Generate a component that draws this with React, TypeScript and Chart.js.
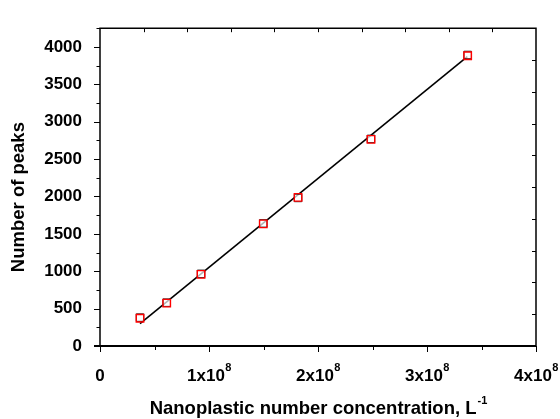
import React, { useEffect, useRef } from "react";
import { Chart, registerables } from "chart.js";

Chart.register(...registerables);

// Data (x in particles per litre, y = number of peaks)
const concentration = [0.367e8, 0.612e8, 0.927e8, 1.498e8, 1.817e8, 2.486e8, 3.373e8];
const peaksRed = [371, 574, 958, 1633, 1987, 2763, 3882];
const peaksBlack = [380, 580, 965, 1640, 1980, 2770, 3892];
const fitX = [0.367e8, 3.37e8];
const fitY = [300, 3870];
const xMajorTicks = [0, 1e8, 2e8, 3e8, 4e8];
const xTickLabels = ["0", "1x10", "2x10", "3x10", "4x10"];
const xTickExps = ["", "8", "8", "8", "8"];
const xTitle = "Nanoplastic number concentration, L";
const xTitleExp = "-1";
const yTitle = "Number of peaks";

const FONT = "'Liberation Sans', Arial, sans-serif";

const framePlugin = {
  id: "frame",
  afterDraw(chart: any) {
    const ctx = chart.ctx;
    const xs = chart.scales.x;
    const ys = chart.scales.y;
    const { left, right, top, bottom } = chart.chartArea;
    ctx.save();
    ctx.strokeStyle = "#000";
    // frame
    ctx.lineWidth = 1.5;
    ctx.beginPath();
    ctx.moveTo(left, bottom);
    ctx.lineTo(left, top);
    ctx.lineTo(right, top);
    ctx.lineTo(right, bottom);
    ctx.stroke();
    ctx.lineWidth = 2;
    ctx.beginPath();
    ctx.moveTo(left - 6, bottom);
    ctx.lineTo(right, bottom);
    ctx.stroke();

    ctx.lineWidth = 1;
    ctx.beginPath();
    // bottom ticks (outward)
    for (let v = 0; v <= 4e8 + 1; v += 0.5e8) {
      const px = Math.round(xs.getPixelForValue(v)) + 0.5;
      const major = Math.abs(v / 1e8 - Math.round(v / 1e8)) < 1e-6;
      ctx.moveTo(px, bottom);
      ctx.lineTo(px, bottom + (major ? 6 : 4));
    }
    // left ticks (outward)
    for (let v = 0; v <= 4250; v += 250) {
      const py = Math.round(ys.getPixelForValue(v)) + 0.5;
      const major = v % 500 === 0;
      ctx.moveTo(left, py);
      ctx.lineTo(left - (major ? 6 : 3.5), py);
    }
    // top ticks (inward)
    for (let v = 0.4e8; v < 4e8 - 1; v += 0.4e8) {
      const px = Math.round(xs.getPixelForValue(v)) + 0.5;
      ctx.moveTo(px, top);
      ctx.lineTo(px, top + 4);
    }
    // right ticks (inward)
    for (let v = 425; v < 4250 - 1; v += 425) {
      const py = Math.round(ys.getPixelForValue(v)) + 0.5;
      ctx.moveTo(right, py);
      ctx.lineTo(right - 4, py);
    }
    ctx.stroke();

    // x tick labels with superscript
    ctx.fillStyle = "#000";
    ctx.textBaseline = "alphabetic";
    xMajorTicks.forEach((v, i) => {
      const px = xs.getPixelForValue(v);
      ctx.font = `bold 17px ${FONT}`;
      const w1 = ctx.measureText(xTickLabels[i]).width;
      ctx.font = `bold 11px ${FONT}`;
      const w2 = xTickExps[i] ? ctx.measureText(xTickExps[i]).width : 0;
      const x0 = px - (w1 + w2) / 2;
      ctx.font = `bold 17px ${FONT}`;
      ctx.textAlign = "left";
      ctx.fillText(xTickLabels[i], x0, bottom + 35);
      if (xTickExps[i]) {
        ctx.font = `bold 11px ${FONT}`;
        ctx.fillText(xTickExps[i], x0 + w1 + 0.5, bottom + 25);
      }
    });

    // x title
    ctx.font = `bold 18.5px ${FONT}`;
    const tw1 = ctx.measureText(xTitle).width;
    ctx.font = `bold 11px ${FONT}`;
    const tw2 = ctx.measureText(xTitleExp).width;
    const cx = (left + right) / 2;
    const tx0 = cx - (tw1 + tw2) / 2;
    ctx.font = `bold 18.5px ${FONT}`;
    ctx.fillText(xTitle, tx0, bottom + 68);
    ctx.font = `bold 11px ${FONT}`;
    ctx.fillText(xTitleExp, tx0 + tw1 + 1, bottom + 58);

    // y title
    ctx.save();
    ctx.translate(24, (top + bottom) / 2 + 10);
    ctx.rotate(-Math.PI / 2);
    ctx.font = `bold 18.5px ${FONT}`;
    ctx.textAlign = "center";
    ctx.fillText(yTitle, 0, 0);
    ctx.restore();

    ctx.restore();
  },
};

export default function App() {
  const ref = useRef<HTMLCanvasElement | null>(null);
  useEffect(() => {
    document.body.style.margin = "0";
    if (!ref.current) return;
    const chart = new Chart(ref.current, {
      type: "scatter",
      data: {
        datasets: [
          {
            type: "line",
            label: "fit",
            data: fitX.map((x, i) => ({ x, y: fitY[i] })),
            borderColor: "#000",
            borderWidth: 1.6,
            pointRadius: 0,
            fill: false,
            order: 3,
          } as any,
          {
            label: "black",
            data: concentration.map((x, i) => ({ x, y: peaksBlack[i] })),
            pointStyle: "rect",
            pointRadius: 5.3,
            borderColor: "#222",
            backgroundColor: "rgba(255,255,255,0.7)",
            borderWidth: 1,
            order: 2,
          },
          {
            label: "red",
            data: concentration.map((x, i) => ({ x, y: peaksRed[i] })),
            pointStyle: "rect",
            pointRadius: 5.3,
            borderColor: "#ff0000",
            backgroundColor: "rgba(255,255,255,0)",
            borderWidth: 1.4,
            order: 1,
          },
        ],
      },
      options: {
        animation: false,
        responsive: false,
        maintainAspectRatio: false,
        layout: { padding: { top: 11, right: 24, left: 0, bottom: 0 } },
        plugins: { legend: { display: false }, tooltip: { enabled: false } },
        scales: {
          x: {
            type: "linear",
            min: 0,
            max: 4e8,
            grid: { display: false, drawTicks: false },
            border: { display: false },
            ticks: { display: false },
            afterFit: (s: any) => {
              s.height = 73;
            },
          },
          y: {
            type: "linear",
            min: 0,
            max: 4250,
            grid: { display: false, drawTicks: false },
            border: { display: false },
            ticks: {
              stepSize: 250,
              padding: 18,
              color: "#000",
              font: { family: FONT, size: 17, weight: "bold" },
              callback: (v: any) => (Number(v) % 500 === 0 ? String(v) : ""),
            },
            afterFit: (s: any) => {
              s.width = 100;
            },
          },
        },
      },
      plugins: [framePlugin],
    });
    return () => chart.destroy();
  }, []);
  return (
    <div style={{ width: 560, height: 419 }}>
      <canvas ref={ref} width={560} height={419} style={{ display: "block" }} />
    </div>
  );
}
